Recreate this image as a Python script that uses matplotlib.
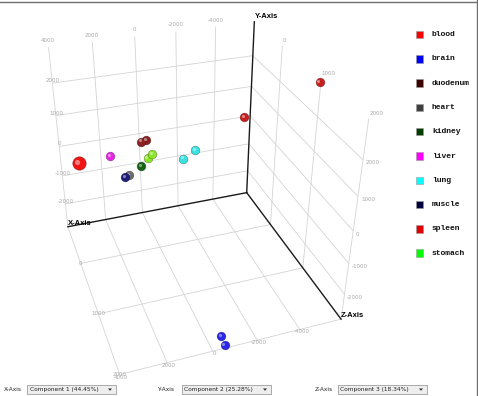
import matplotlib
matplotlib.use("Agg")
import matplotlib.pyplot as plt
from matplotlib.patches import Rectangle, Polygon
from matplotlib.lines import Line2D
from matplotlib.transforms import ScaledTranslation

# ---- data: PCA scores (component 1, 2, 3) ----
sample_tissue = ["blood", "brain", "brain", "duodenum", "duodenum", "heart", "kidney",
                 "liver", "lung", "lung", "muscle", "spleen", "spleen", "stomach", "stomach"]
pc1 = [3650, -440, -525, 740, 510, 1390, 780, 2200, -1270, -1840, 1570, -4270, -5830, 460, 230]
pc2 = [470, -2530, -2735, 820, 850, -170, 50, 530, 60, 260, -220, 1060, 3010, 260, 380]
pc3 = [0, 1950, 2000, 0, 0, 0, 0, 0, 0, 0, 0, 0, 1050, 0, 0]

tissues = ["blood", "brain", "duodenum", "heart", "kidney", "liver", "lung", "muscle", "spleen", "stomach"]
variance = [44.45, 25.28, 18.34]

pc1_lim = (-6000, 4000)
pc2_lim = (-2850, 3050)
pc3_lim = (-850, 2000)
pc1_ticks = [-4000, -2000, 0, 2000, 4000]
pc2_ticks = [-2000, -1000, 0, 1000, 2000]
pc3_ticks = [0, 1000, 2000]

# legend swatch colour / rendered sphere colour
legend_color = {"blood": "#ff0000", "brain": "#0000ff", "duodenum": "#3c0000", "heart": "#404040",
                "kidney": "#003c00", "liver": "#ff00ff", "lung": "#00ffff", "muscle": "#00003c",
                "spleen": "#e00000", "stomach": "#00ff00"}
sphere_color = {"blood": "#f01414", "brain": "#2828e6", "duodenum": "#8a2222", "heart": "#6e6e6e",
                "kidney": "#146414", "liver": "#e628e6", "lung": "#3ce0e0", "muscle": "#1e1e78",
                "spleen": "#c81e1e", "stomach": "#8ce628"}

W, H = 478, 396
plt.rcParams['grid.color'] = '#d4d4d4'
plt.rcParams['grid.linewidth'] = 0.6
fig = plt.figure(figsize=(W / 100, H / 100), dpi=100)


def fx(x):
    return x / W


def fy(y):
    return 1 - y / H


# ---- 3D scene ----
S = 388
cx, cy = 188, 187
ax = fig.add_axes([fx(cx - S / 2), fy(cy + S / 2), S / W, S / H], projection='3d')
ax.set_proj_type('persp', focal_length=0.36)
ax.view_init(elev=32, azim=71)
ax.set_xlim(pc1_lim)
ax.set_ylim(pc3_lim)
ax.set_zlim(pc2_lim)
ax.set_box_aspect((215, 233, 212))
ax.set_xticks(pc1_ticks)
ax.set_yticks(pc3_ticks)
ax.set_zticks(pc2_ticks)
ax.set_xticklabels([])
ax.set_yticklabels([])
ax.set_zticklabels([])
for axis in (ax.xaxis, ax.yaxis, ax.zaxis):
    axis.set_pane_color((1, 1, 1, 0))
    axis.pane.set_edgecolor((1, 1, 1, 0))
    axis.line.set_color((0, 0, 0, 0))
    axis._axinfo['tick']['inward_factor'] = 0
    axis._axinfo['tick']['outward_factor'] = 0
    axis._axinfo['grid']['color'] = '#d4d4d4'
    axis._axinfo['grid']['linewidth'] = 0.6

x0, x1 = pc1_lim
y0, y1 = pc2_lim
z0, z1 = pc3_lim

# black axes from the back corner
ax.plot([x0, x1], [z0, z0], [y0, y0], color='#1a1a1a', lw=1.0)
ax.plot([x0, x0], [z0, z0], [y0, y1], color='#1a1a1a', lw=1.0)
ax.plot([x0, x0], [z0, z1], [y0, y0], color='#1a1a1a', lw=1.0)

tk = dict(fontsize=4, color='#a8a8a8')
for v in pc1_ticks:
    ax.text(v, z0, y1 + 120, str(v), ha='center', va='bottom', **tk)
    ax.text(v, z1 + 40, y0, str(v), ha='center', va='center', **tk)
for v in pc2_ticks:
    ax.text(x1, z0, v, str(v), ha='center', va='bottom', **tk)
    ax.text(x0, z1 + 60, v, str(v), ha='left', va='center', **tk)
for v in pc3_ticks:
    ax.text(x0, v, y1 + 80, str(v), ha='left', va='bottom', **tk)
    ax.text(x1, v, y0, str(v), ha='center', va='center', **tk)

lab = dict(fontsize=5.5, fontweight='bold', color='black', family='Liberation Sans')
ax.text(x1, z0, y0, "X-Axis", ha='left', va='bottom', **lab)
ax.text(x0, z0, y1 + 60, "Y-Axis", ha='left', va='bottom', **lab)
ax.text(x0, z1, y0, "Z-Axis", ha='left', va='bottom', **lab)

# spheres: coloured ball plus a small shine nudged up-left
shine = ScaledTranslation(-1.3 / 100, 1.3 / 100, fig.dpi_scale_trans)
for t in tissues:
    idx = [i for i, s in enumerate(sample_tissue) if s == t]
    big = t == "blood"
    xs = [pc1[i] for i in idx]
    ys = [pc3[i] for i in idx]
    zs = [pc2[i] for i in idx]
    ax.scatter(xs, ys, zs, s=95 if big else 40, color=sphere_color[t],
               edgecolors='#00000066', linewidths=0.4, depthshade=False)
    hl = ax.scatter(xs, ys, zs, s=14 if big else 5, color='white', alpha=0.45,
                    linewidths=0, depthshade=False)
    hl.set_offset_transform(ax.transData + shine)

# ---- legend ----
for k, t in enumerate(tissues):
    yc = 34.5 + k * 24.3
    fig.patches.append(Rectangle((fx(415.5), fy(yc + 3.7)), 7.5 / W, 7.5 / H,
                                 transform=fig.transFigure, facecolor=legend_color[t],
                                 edgecolor='#9a9a9a', lw=0.4))
    fig.text(fx(432), fy(yc), t, fontsize=5.8, fontweight='bold', family='Liberation Mono',
             ha='left', va='center', color='#111111')

# ---- axis selectors at the bottom ----
combo_x = [(4, 27), (157, 182), (315, 338)]
for k, (lx, bx) in enumerate(combo_x):
    fig.text(fx(lx), fy(389.5), "XYZ"[k] + "-Axis", fontsize=4.2, ha='left', va='center',
             color='#222222')
    fig.patches.append(Rectangle((fx(bx), fy(393.5)), 89 / W, 8.5 / H,
                                 transform=fig.transFigure, facecolor='#eeeeee',
                                 edgecolor='#8c8c8c', lw=0.5))
    fig.text(fx(bx + 2.5), fy(389.5), "Component %d (%.2f%%)" % (k + 1, variance[k]),
             fontsize=4.2, ha='left', va='center', color='#222222')
    axx = bx + 83
    fig.patches.append(Polygon([(fx(axx - 2), fy(388.5)), (fx(axx + 2), fy(388.5)),
                                (fx(axx), fy(390.8))], closed=True,
                               transform=fig.transFigure, facecolor='#333333', lw=0))

# frame
fig.lines.append(Line2D([0, 1], [fy(1.5), fy(1.5)], transform=fig.transFigure,
                        color='#6e6e6e', lw=1.0))
fig.lines.append(Line2D([fx(476.5), fx(476.5)], [0, 1], transform=fig.transFigure,
                        color='#6e6e6e', lw=1.0))

fig.savefig("out.png", dpi=100)
